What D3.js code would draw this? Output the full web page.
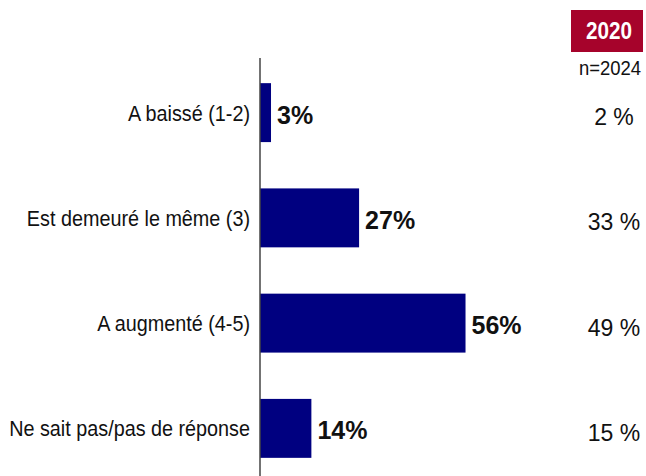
<!DOCTYPE html>
<html>
<head>
<meta charset="utf-8">
<script src="https://cdn.jsdelivr.net/npm/d3@7"></script>
<style>
  body { margin: 0; background: #fff; }
  svg { display: block; font-family: "Liberation Sans", Arial, sans-serif; }
</style>
</head>
<body>
<div id="chart"></div>
<script>
var categories = ['A baissé (1-2)', 'Est demeuré le même (3)', 'A augmenté (4-5)', 'Ne sait pas/pas de réponse'];
var values2024 = [3, 27, 56, 14];
var values2020 = [2, 33, 49, 15];
var yearLabel = '2020';
var sampleLabel = 'n=2024';

var w = 646;
var h = 476;
var axisX = 260;
var squeeze = 0.9;

var svg = d3.select('#chart').append('svg').attr('width', w).attr('height', h);

var x = d3.scaleLinear().domain([0, 100]).range([axisX, axisX + 367]);
var y = d3.scaleBand().domain(categories).range([60, 481]).paddingInner(0.44).paddingOuter(0.22);

// bars
svg.selectAll('rect.bar').data(categories).enter().append('rect')
    .attr('class', 'bar')
    .attr('x', x(0))
    .attr('y', function (d) { return y(d); })
    .attr('width', function (d, i) { return x(values2024[i]) - x(0); })
    .attr('height', y.bandwidth())
    .attr('fill', '#000080');

// value labels
svg.selectAll('text.val').data(categories).enter().append('text')
    .attr('class', 'val')
    .attr('x', function (d, i) { return x(values2024[i]) + 6; })
    .attr('y', function (d) { return y(d) + y.bandwidth() / 2 + 11; })
    .attr('font-size', 25).attr('font-weight', 'bold').attr('fill', '#111')
    .text(function (d, i) { return values2024[i] + '%'; });

// category labels (slightly condensed)
svg.selectAll('g.cat').data(categories).enter().append('g')
    .attr('class', 'cat')
    .attr('transform', function (d) { return 'translate(250,' + (y(d) + y.bandwidth() / 2 + 8) + ') scale(' + squeeze + ',1)'; })
    .append('text')
    .attr('text-anchor', 'end')
    .attr('font-size', 22).attr('fill', '#111')
    .text(function (d) { return d; });

// axis line
svg.append('line')
    .attr('x1', axisX).attr('x2', axisX)
    .attr('y1', 58).attr('y2', h)
    .attr('stroke', '#444').attr('stroke-width', 1.5);

// 2020 column
svg.append('rect').attr('x', 571).attr('y', 10).attr('width', 72).attr('height', 42).attr('fill', '#A6032B');
svg.append('g').attr('transform', 'translate(609,39) scale(0.9,1)')
    .append('text').attr('text-anchor', 'middle').attr('font-size', 23).attr('font-weight', 'bold')
    .attr('fill', '#fff').text(yearLabel);
svg.append('g').attr('transform', 'translate(610,75) scale(0.88,1)')
    .append('text').attr('text-anchor', 'middle').attr('font-size', 21)
    .attr('fill', '#111').text(sampleLabel);

svg.selectAll('text.prev').data(categories).enter().append('text')
    .attr('class', 'prev')
    .attr('x', 614)
    .attr('y', function (d) { return y(d) + y.bandwidth() / 2 + 12.5; })
    .attr('text-anchor', 'middle')
    .attr('font-size', 23).attr('fill', '#111')
    .text(function (d, i) { return values2020[i] + ' %'; });
</script>
</body>
</html>
